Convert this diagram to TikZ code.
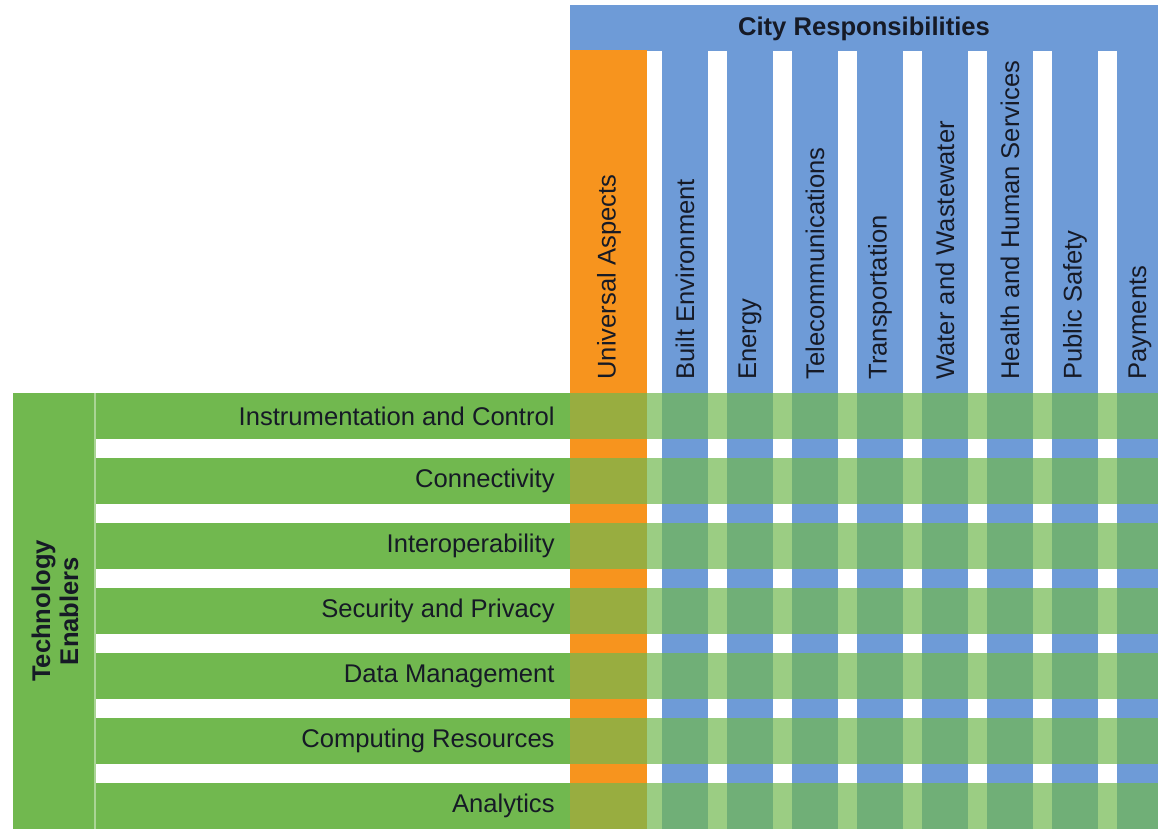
\documentclass[tikz,border=0pt]{standalone}
\usepackage{fontspec}
\setmainfont{Liberation Sans}
\usepackage{tikz}

\definecolor{cityblue}{RGB}{110,155,215}
\definecolor{univorange}{RGB}{247,148,30}
\definecolor{techgreen}{RGB}{113,184,79}
\definecolor{labeltext}{RGB}{22,26,38}

\tikzset{
  collabel/.style={rotate=90,anchor=west,inner sep=0pt,text=labeltext,font=\fontsize{12.8}{14}\selectfont},
  rowlabel/.style={anchor=east,inner sep=0pt,text=labeltext,font=\fontsize{12.8}{14}\selectfont},
  headlabel/.style={inner sep=0pt,text=labeltext,font=\fontsize{12.8}{14}\selectfont\bfseries}
}

\begin{document}
\begin{tikzpicture}[x=0.5pt,y=-0.5pt]
				\useasboundingbox (0,0) rectangle (1158,829);
				% header
				\fill[cityblue] (570,5) rectangle (1158,51);
				\node[headlabel] (cityhead) at (864,29) {City Responsibilities};
				% columns
				\fill[univorange] (570,50) rectangle (647,829);
				\node[collabel] (univ) at (609,380) {Universal Aspects};
				\foreach \i/\name in {0/Built Environment,1/Energy,2/Telecommunications,3/Transportation,4/Water and Wastewater,5/Health and Human Services,6/Public Safety,7/Payments}{
					\fill[cityblue] (662+65*\i,50) rectangle (708+65*\i,829);
					\node[collabel] (col\i) at (685+65*\i,380) {\name};
				}
				% technology enablers
				\fill[techgreen] (13,393) rectangle (95,829);
				\draw[techgreen!60!white,line width=1pt] (95,393) -- (95,829);
				\node[headlabel,rotate=90,align=center] (techhead) at (55,611) {Technology\\Enablers};
				\foreach \j/\name in {0/Instrumentation and Control,1/Connectivity,2/Interoperability,3/Security and Privacy,4/Data Management,5/Computing Resources,6/Analytics}{
					\fill[techgreen] (96,393+65*\j) rectangle (570,439+65*\j);
					\fill[techgreen,opacity=0.7] (570,393+65*\j) rectangle (1158,439+65*\j);
					\node[rowlabel] (row\j) at (555,416+65*\j) {\name};
				}
			\end{tikzpicture}
\end{document}
